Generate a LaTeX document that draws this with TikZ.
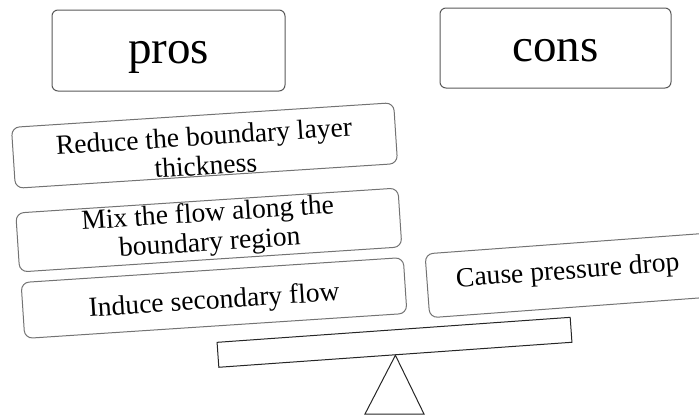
\documentclass[tikz,border=0pt]{standalone}
\usepackage{fontspec}
\setmainfont{Liberation Serif}
\begin{document}
\begin{tikzpicture}[x=1pt,y=-1pt,
  headbox/.style={draw=black!65, line width=1pt, rounded corners=6pt, fill=white,
    minimum width=233pt, minimum height=81pt, inner sep=0pt, text depth=0pt,
    font=\fontsize{47}{50}\selectfont},
  itembox/.style={draw=black!55, line width=1pt, rounded corners=8pt, fill=white,
    minimum width=383pt, inner sep=0pt, align=center, text depth=0pt,
    font=\fontsize{27.6}{29.4}\selectfont},
  beamstyle/.style={draw=black!85, line width=1pt, fill=white, inner sep=0pt,
    minimum width=354pt, minimum height=25pt}]
\useasboundingbox (0,0) rectangle (699,415);
\clip (0,0) rectangle (699,415);
\node[headbox, text height=25.6pt] (pros) at (168.5,50.5) {pros};
\node[headbox, minimum width=231pt, minimum height=80pt, text height=27.4pt] (cons) at (555.5,48) {cons};
\node[itembox, minimum height=61pt, rotate=3.7, text height=58.4pt] (p1) at (204.5,145.5) {Reduce the boundary layer\\thickness};
\node[itembox, minimum height=59pt, rotate=3.75, text height=41.8pt] (p2) at (208.8,230) {Mix the flow along the\\boundary region};
\node[itembox, minimum height=56pt, rotate=3.75, text height=21.2pt] (p3) at (214,298) {Induce secondary flow};
\node[itembox, minimum width=282pt, minimum height=64pt, rotate=4.2, text height=7pt] (c1) at (568,275.5) {Cause pressure drop};
\node[beamstyle, rotate=4.05] (beam) at (394.5,342.3) {};
\draw[draw=black!85, line width=1pt] (beam.south) -- (365,414) -- (424,414) -- cycle;
\end{tikzpicture}
\end{document}
